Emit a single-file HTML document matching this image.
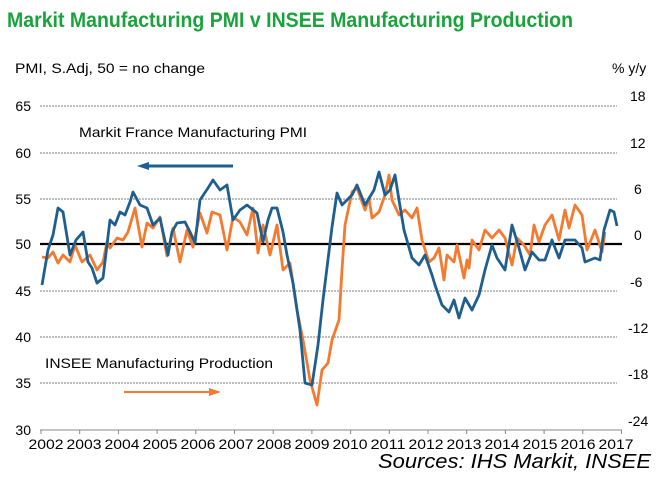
<!DOCTYPE html>
<html><head><meta charset="utf-8"><style>
html,body{margin:0;padding:0;background:#fff;}
svg{display:block;font-family:"Liberation Sans",Arial,sans-serif;}
</style></head><body>
<svg width="664" height="492" viewBox="0 0 664 492" xmlns="http://www.w3.org/2000/svg">
<rect width="664" height="492" fill="#fff"/>
<text x="7" y="27" font-size="21" font-weight="bold" fill="#1aa33c" textLength="566" lengthAdjust="spacingAndGlyphs">Markit Manufacturing PMI v INSEE Manufacturing Production</text>
<text x="15" y="73" font-size="14" fill="#000" textLength="190" lengthAdjust="spacingAndGlyphs">PMI, S.Adj, 50 = no change</text>
<text x="612" y="73" font-size="14" fill="#000">% y/y</text>
<g stroke="#555" stroke-width="0.8" stroke-dasharray="2,1">
<line x1="40" y1="106" x2="617" y2="106"/>
<line x1="40" y1="153" x2="617" y2="153"/>
<line x1="40" y1="199" x2="617" y2="199"/>
<line x1="40" y1="291" x2="617" y2="291"/>
<line x1="40" y1="337" x2="617" y2="337"/>
<line x1="40" y1="383" x2="617" y2="383"/>
</g>
<g font-size="14" fill="#000" text-anchor="end">
<text x="31" y="111">65</text><text x="31" y="158">60</text><text x="31" y="204">55</text><text x="31" y="249">50</text><text x="31" y="296">45</text><text x="31" y="342">40</text><text x="31" y="388">35</text><text x="31" y="435">30</text>
</g>
<g font-size="14" fill="#000">
<text x="630" y="101">18</text><text x="630" y="148">12</text><text x="634" y="194">6</text><text x="634" y="240">0</text><text x="630" y="287">-6</text><text x="628" y="333">-12</text><text x="628" y="379">-18</text><text x="628" y="426">-24</text>
</g>
<line x1="40" y1="430" x2="622" y2="430" stroke="#888" stroke-width="1"/>
<g stroke="#888" stroke-width="1">
<line x1="41" y1="430" x2="41" y2="434"/><line x1="79.7" y1="430" x2="79.7" y2="434"/><line x1="118.4" y1="430" x2="118.4" y2="434"/><line x1="157.1" y1="430" x2="157.1" y2="434"/><line x1="195.8" y1="430" x2="195.8" y2="434"/><line x1="234.5" y1="430" x2="234.5" y2="434"/><line x1="273.2" y1="430" x2="273.2" y2="434"/><line x1="311.9" y1="430" x2="311.9" y2="434"/><line x1="350.6" y1="430" x2="350.6" y2="434"/><line x1="389.3" y1="430" x2="389.3" y2="434"/><line x1="428" y1="430" x2="428" y2="434"/><line x1="466.7" y1="430" x2="466.7" y2="434"/><line x1="505.4" y1="430" x2="505.4" y2="434"/><line x1="544.1" y1="430" x2="544.1" y2="434"/><line x1="582.8" y1="430" x2="582.8" y2="434"/><line x1="621.5" y1="430" x2="621.5" y2="434"/>
</g>
<g font-size="14" fill="#000" text-anchor="middle">
<text x="46" y="449" textLength="35" lengthAdjust="spacingAndGlyphs">2002</text>
<text x="84" y="449" textLength="35" lengthAdjust="spacingAndGlyphs">2003</text>
<text x="122" y="449" textLength="35" lengthAdjust="spacingAndGlyphs">2004</text>
<text x="160" y="449" textLength="35" lengthAdjust="spacingAndGlyphs">2005</text>
<text x="198" y="449" textLength="35" lengthAdjust="spacingAndGlyphs">2006</text>
<text x="236" y="449" textLength="35" lengthAdjust="spacingAndGlyphs">2007</text>
<text x="274" y="449" textLength="35" lengthAdjust="spacingAndGlyphs">2008</text>
<text x="312" y="449" textLength="35" lengthAdjust="spacingAndGlyphs">2009</text>
<text x="350" y="449" textLength="35" lengthAdjust="spacingAndGlyphs">2010</text>
<text x="388" y="449" textLength="35" lengthAdjust="spacingAndGlyphs">2011</text>
<text x="426" y="449" textLength="35" lengthAdjust="spacingAndGlyphs">2012</text>
<text x="464" y="449" textLength="35" lengthAdjust="spacingAndGlyphs">2013</text>
<text x="502" y="449" textLength="35" lengthAdjust="spacingAndGlyphs">2014</text>
<text x="540" y="449" textLength="35" lengthAdjust="spacingAndGlyphs">2015</text>
<text x="578" y="449" textLength="35" lengthAdjust="spacingAndGlyphs">2016</text>
<text x="616" y="449" textLength="35" lengthAdjust="spacingAndGlyphs">2017</text>
</g>
<text x="79" y="137" font-size="14" fill="#000" textLength="228" lengthAdjust="spacingAndGlyphs">Markit France Manufacturing PMI</text>
<line x1="233" y1="166" x2="145" y2="166" stroke="#1f5f8f" stroke-width="3"/>
<polygon points="137,166 149,162 149,170" fill="#1f5f8f"/>
<text x="45" y="368" font-size="14" fill="#000" textLength="228" lengthAdjust="spacingAndGlyphs">INSEE Manufacturing Production</text>
<line x1="124" y1="392" x2="212" y2="392" stroke="#f47a30" stroke-width="2"/>
<polygon points="221,392 209,388 209,396" fill="#f47a30"/>
<line x1="40" y1="244" x2="622" y2="244" stroke="#000" stroke-width="2.2"/>
<polyline fill="none" stroke="#f47a30" stroke-width="2.8" stroke-linejoin="round" points="42,257 48,258 53,252 58,263 63,255 70,262 75,245 82,262 90,255 97,270 103,262 107,242 110,248 117,238 123,240 128,232 135,208 142,247 147,223 153,228 160,217 167,256 173,228 180,262 187,230 193,247 200,213 207,233 212,212 220,215 227,250 233,217 240,222 247,235 253,208 258,253 263,225 270,255 277,225 283,270 290,263 297,310 303,340 310,380 317,405 322,370 328,363 332,340 339,320 342,270 345,225 352,192 357,188 365,210 369,198 372,218 379,212 385,195 389,175 392,200 399,215 405,210 412,218 417,208 422,240 429,262 434,258 439,248 444,280 447,255 454,262 457,245 464,278 467,260 469,268 472,240 479,250 485,230 492,238 499,230 505,238 512,265 517,238 524,245 530,255 534,225 539,242 545,225 552,215 559,240 565,210 569,228 575,205 582,215 587,250 595,230 602,252 605,232"/>
<polyline fill="none" stroke="#1f5f8f" stroke-width="2.8" stroke-linejoin="round" points="42,285 48,250 53,235 58,208 63,212 70,255 76,240 83,232 88,262 92,268 97,283 103,278 110,220 115,225 120,212 125,215 130,202 133,192 140,205 147,208 153,225 160,218 168,255 172,232 177,223 185,222 190,232 195,243 200,200 208,188 213,180 220,190 227,185 233,220 240,210 247,205 257,213 263,242 268,220 272,208 277,208 283,232 287,255 293,283 300,330 305,383 312,385 318,345 323,300 332,227 337,193 342,205 352,195 357,185 365,205 374,190 379,172 385,195 390,190 395,175 399,200 404,230 412,258 419,265 425,255 432,275 435,285 442,305 447,310 449,312 454,300 459,318 465,298 472,310 479,295 485,270 492,245 497,258 505,270 512,225 519,248 525,270 532,252 539,260 545,260 552,240 559,258 565,240 575,240 582,248 585,262 595,258 600,260 604,230 610,210 614,212 617,226"/>
<text x="651" y="468" font-size="20" font-style="italic" fill="#000" text-anchor="end" textLength="273" lengthAdjust="spacingAndGlyphs">Sources: IHS Markit, INSEE</text>
</svg>
</body></html>
